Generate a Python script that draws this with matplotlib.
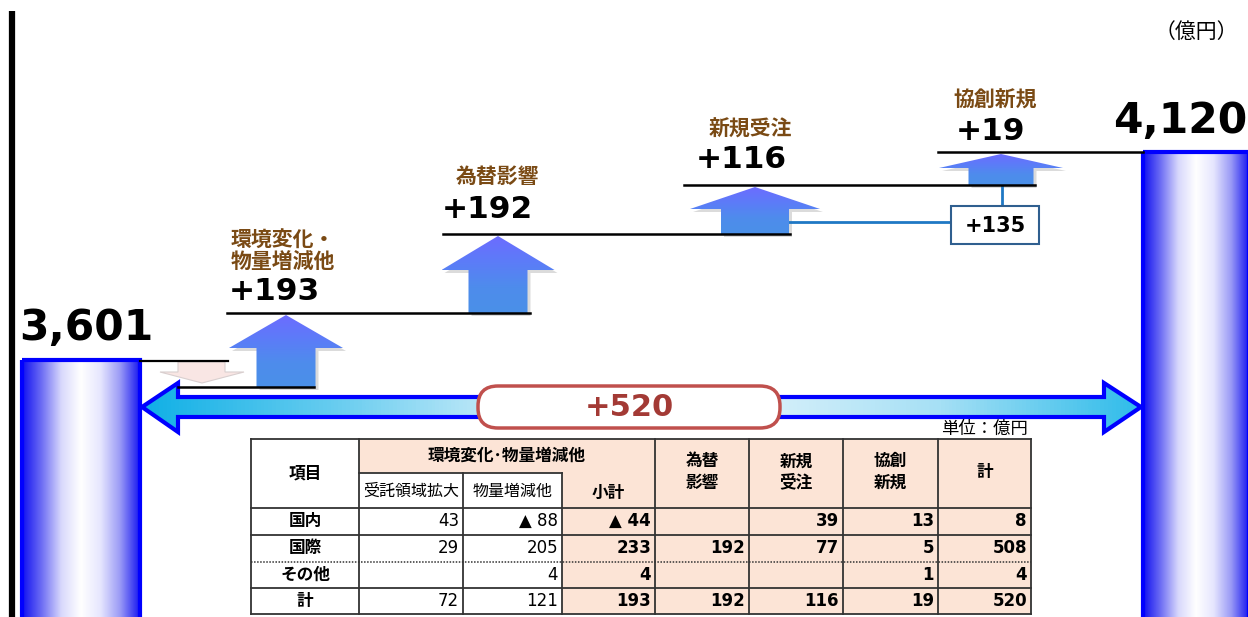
import numpy as np
import matplotlib
matplotlib.use("Agg")
import matplotlib.pyplot as plt
from matplotlib.patches import Polygon, Rectangle, FancyBboxPatch
from matplotlib.colors import LinearSegmentedColormap

plt.rcParams['font.family'] = ['DejaVu Sans', 'Noto Sans CJK JP']

# === DADOS ===
start_value = 3601
end_value = 4120
step_labels = ['環境変化・\n物量増減他', '為替影響', '新規受注', '協創新規']
step_values = [193, 192, 116, 19]
new_subtotal = 135          # 新規受注 + 協創新規
total_change = 520

header_group = '環境変化･物量増減他'
table_cols = ['受託領域拡大', '物量増減他', '小計', '為替\n影響', '新規\n受注', '協創\n新規', '計']
row_labels = ['国内', '国際', 'その他', '計']
col_jutaku = [43, 29, None, 72]
col_butsuryo = [-88, 205, 4, 121]
col_shokei = [-44, 233, 4, 193]
col_kawase = [None, 192, None, 192]
col_shinki = [39, 77, None, 116]
col_kyoso = [13, 5, 1, 19]
col_total = [8, 508, 4, 520]
table_values = [col_jutaku, col_butsuryo, col_shokei, col_kawase, col_shinki, col_kyoso, col_total]

# === LAYOUT (pixels) ===
W, H = 1248, 617
levels = [387, 313, 234, 185, 152]          # base of each step, last = top of right bar
arrow_cx = [286, 498, 755, 1001]
shaft_hw = [29.5, 29.5, 34, 32.5]
head_hw = [57, 56.5, 65, 62]
head_h = [33, 34, 22, 14]
line_x0 = [227, 443, 684, 938]
line_x1 = [530, 790, 1035, 1143]
value_x = [229, 442, 696, 956]
value_dy = [21, 25, 25, 21]
cat_x = [283, 497, 750, 995]
cat_dy = [62, 58, 56, 52]

BROWN = '#7A4A14'
BLUE = '#0000FF'

fig = plt.figure(figsize=(W / 100, H / 100), dpi=100)
ax = fig.add_axes([0, 0, 1, 1])
ax.set_xlim(0, W)
ax.set_ylim(H, 0)
ax.axis('off')


def gradient(patch, colors, vertical=False, z=2):
    """Preenche um patch com gradiente linear."""
    ax.add_patch(patch)
    x0, y0, x1, y1 = patch.get_path().get_extents(patch.get_patch_transform()).extents
    cmap = LinearSegmentedColormap.from_list('g', colors)
    g = np.linspace(0, 1, 256)
    arr = g[:, None] if vertical else g[None, :]
    im = ax.imshow(arr, cmap=cmap, extent=(x0, x1, y1, y0), origin='upper',
                   aspect='auto', zorder=z, interpolation='bilinear')
    im.set_clip_path(patch)
    return im


bar_colors = ['#1010F0', '#6E6EF4', '#D8D8FC', '#FFFFFF', '#E6E6FE', '#9A9AF6', '#1818F0']

# === EIXO ESQUERDO ===
ax.plot([12, 12], [11, H], color='black', lw=4.5, solid_capstyle='butt', zorder=5)
ax.text(1238, 32, '（億円）', ha='right', va='center', fontsize=15,
        family=['Noto Sans CJK JP'])

# === BARRAS INICIAL E FINAL ===
for x0, x1, top in [(22, 140, 360), (1143, 1249, 152)]:
    r = Rectangle((x0, top), x1 - x0, H - top + 5, facecolor='none', edgecolor='none')
    gradient(r, bar_colors, z=2)
    ax.add_patch(Rectangle((x0, top), x1 - x0, H - top + 5, facecolor='none',
                           edgecolor=BLUE, lw=3, zorder=3))
ax.text(86, 328, f'{start_value:,}', ha='center', va='center', fontsize=30.5,
        fontweight='bold', zorder=6)
ax.text(1247, 121, f'{end_value:,}', ha='right', va='center', fontsize=30.5,
        fontweight='bold', zorder=6)

# === PEQUENA QUEDA (seta rosa) ===
ax.plot([140, 228], [361, 361], color='black', lw=1.6, zorder=4)
ax.add_patch(Polygon([(178, 362), (225, 362), (225, 372), (244, 372), (202, 383),
                      (160, 372), (178, 372)], closed=True, facecolor='#F9E6E4',
                     edgecolor='#D9CFCF', lw=0.8, zorder=3))
ax.plot([178, 314], [levels[0], levels[0]], color='black', lw=1.8, zorder=4)

# === SETAS DE VARIAÇÃO ===
arrow_colors = ['#6C6CFF', '#5C7CF8', '#4E8CEC', '#4A90E8']
for i, v in enumerate(step_values):
    base, top = levels[i], levels[i + 1]
    cx = arrow_cx[i]
    tip = top + 2
    wing = tip + head_h[i]
    pts = [(cx - shaft_hw[i], base), (cx - shaft_hw[i], wing), (cx - head_hw[i], wing),
           (cx, tip), (cx + head_hw[i], wing), (cx + shaft_hw[i], wing),
           (cx + shaft_hw[i], base)]
    shadow = [(x + 3, y + 3) for x, y in pts]
    ax.add_patch(Polygon(shadow, closed=True, facecolor='#9A9A9A', alpha=0.35,
                         edgecolor='none', zorder=2))
    gradient(Polygon(pts, closed=True, facecolor='none', edgecolor='none'),
             arrow_colors, vertical=True, z=3)
    ax.plot([line_x0[i], line_x1[i]], [top, top], color='black', lw=1.8, zorder=4)
    ax.text(value_x[i], top - value_dy[i], f'+{v}', ha='left', va='center',
            fontsize=22.5, fontweight='bold', zorder=6)
    ax.text(cat_x[i], top - cat_dy[i], step_labels[i], ha='center', va='center',
            fontsize=15, fontweight='bold', color=BROWN, linespacing=1.0, zorder=6,
            family=['Noto Sans CJK JP'])

# === CAIXA +135 ===
conn = '#1F78C4'
ax.plot([arrow_cx[2] + shaft_hw[2], 951], [222, 222], color=conn, lw=2, zorder=2.5)
ax.plot([1002, 1002], [levels[3], 206], color=conn, lw=2, zorder=2.5)
ax.add_patch(Rectangle((951, 206), 88, 38, facecolor='white', edgecolor='#2F5F8F',
                       lw=1.5, zorder=5))
ax.text(995, 226, f'+{new_subtotal}', ha='center', va='center', fontsize=15,
        fontweight='bold', zorder=6)

# === SETA DUPLA (+520) ===
dbl = [(142, 407), (178, 383), (178, 397), (1104, 397), (1104, 383), (1141, 407),
       (1104, 432), (1104, 417), (178, 417), (178, 432)]
gradient(Polygon(dbl, closed=True, facecolor='none', edgecolor='none'),
         ['#10B0E6', '#6CCEF0', '#DDF2FB', '#DDF2FB', '#A6E0F5', '#30BCEA'], z=2)
ax.add_patch(Polygon(dbl, closed=True, facecolor='none', edgecolor=BLUE, lw=3,
                     joinstyle='miter', zorder=3))
ax.add_patch(FancyBboxPatch((478, 386), 302, 42,
                            boxstyle='round,pad=0,rounding_size=20',
                            facecolor='white', edgecolor='#C0504D', lw=2.5, zorder=5))
ax.text(629, 408, f'+{total_change}', ha='center', va='center', fontsize=22,
        fontweight='bold', color='#A33A35', zorder=6)

# === TABELA ===
ax.text(1028, 429, '単位：億円', ha='right', va='center', fontsize=12.5,
        family=['Noto Sans CJK JP'], zorder=6)

col_x = [251, 359, 463, 562, 655, 749, 843, 938, 1031]
row_y = [508, 535, 562, 588, 614]
row_cy = [521, 548, 575, 601]
t_top, t_mid = 439, 473
peach = '#FCE4D6'
ax.add_patch(Rectangle((359, t_top), 655 - 359, t_mid - t_top, facecolor=peach,
                       edgecolor='none', zorder=1))
ax.add_patch(Rectangle((562, t_mid), 655 - 562, row_y[-1] - t_mid, facecolor=peach,
                       edgecolor='none', zorder=1))
ax.add_patch(Rectangle((655, t_top), 1031 - 655, row_y[-1] - t_top, facecolor=peach,
                       edgecolor='none', zorder=1))

lc, lw = '#333333', 1.3
for x in [251, 359, 655, 749, 843, 938, 1031]:
    ax.plot([x, x], [t_top, row_y[-1]], color=lc, lw=lw, zorder=4)
for x in [463, 562]:
    ax.plot([x, x], [t_mid, row_y[-1]], color=lc, lw=lw, zorder=4)
ax.plot([359, 562], [t_mid, t_mid], color=lc, lw=lw, zorder=4)
for y in [t_top, row_y[0], row_y[1], row_y[3], row_y[4]]:
    ax.plot([251, 1031], [y, y], color=lc, lw=lw, zorder=4)
ax.plot([251, 1031], [row_y[2], row_y[2]], color=lc, lw=1.1, ls=(0, (1, 1)), zorder=4)

hfont = dict(fontsize=12, fontweight='bold', family=['Noto Sans CJK JP'], zorder=6)
ax.text(305, 473, '項目', ha='center', va='center', **hfont)
ax.text(507, 456, header_group, ha='center', va='center', **hfont)
for j, name in enumerate(table_cols):
    cx = (col_x[j + 1] + col_x[j + 2]) / 2
    if j < 2:
        ax.text(cx, 491, name, ha='center', va='center', fontsize=11.5,
                family=['Noto Sans CJK JP'], zorder=6)
    elif j == 2:
        ax.text(cx, 493, name, ha='center', va='center', **hfont)
    else:
        ax.text(cx, 472, name, ha='center', va='center', linespacing=1.25, **hfont)

for r, lab in enumerate(row_labels):
    cy = row_cy[r]
    ax.text(305, cy, lab, ha='center', va='center', **hfont)
    for j, col in enumerate(table_values):
        v = col[r]
        if v is None:
            continue
        s = f'▲ {abs(v)}' if v < 0 else f'{v}'
        ax.text(col_x[j + 2] - 4, cy, s, ha='right', va='center', fontsize=12,
                fontweight='normal' if j < 2 else 'bold',
                family=['DejaVu Sans', 'Noto Sans CJK JP'], zorder=6)

fig.savefig('out.png', dpi=100)
